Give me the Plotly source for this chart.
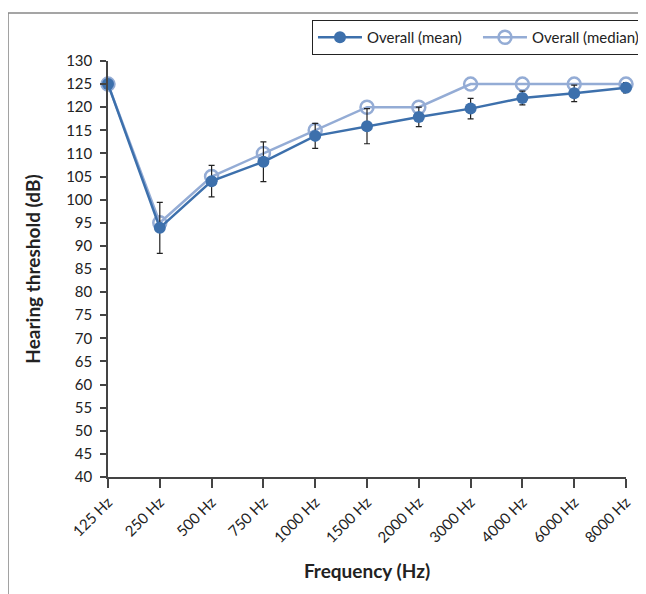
import plotly.graph_objects as go

freqs = ["125 Hz", "250 Hz", "500 Hz", "750 Hz", "1000 Hz", "1500 Hz",
         "2000 Hz", "3000 Hz", "4000 Hz", "6000 Hz", "8000 Hz"]
mean_vals = [125, 93.9, 104, 108.2, 113.8, 115.9, 117.9, 119.7, 122, 123, 124.2]
mean_err = [0.3, 5.5, 3.4, 4.3, 2.7, 3.8, 2.1, 2.2, 1.5, 1.8, 1.1]
median_vals = [125, 95, 105, 110, 115, 120, 120, 125, 125, 125, 125]
y_ticks = list(range(40, 131, 5))

MEAN_C = "#3D70AC"
MED_C = "#94ACD5"
FONT = "Lato, 'Open Sans', sans-serif"

fig = go.Figure()
fig.add_trace(go.Scatter(
    x=freqs, y=median_vals, name="Overall (median)", mode="lines+markers",
    line=dict(color=MED_C, width=2.5),
    marker=dict(symbol="circle-open", size=13, color=MED_C, line=dict(width=2.5, color=MED_C)),
    cliponaxis=False, legendrank=2,
))
fig.add_trace(go.Scatter(
    x=freqs, y=mean_vals, name="Overall (mean)", mode="lines+markers",
    line=dict(color=MEAN_C, width=2.5),
    marker=dict(symbol="circle", size=12, color=MEAN_C),
    error_y=dict(type="data", array=mean_err, visible=True, color="#222222", thickness=1.2, width=3),
    cliponaxis=False, legendrank=1,
))

fig.update_layout(
    width=638, height=586,
    margin=dict(l=100, r=20, t=53, b=117, autoexpand=False),
    paper_bgcolor="white", plot_bgcolor="white",
    font=dict(family=FONT, size=15, color="#222222"),
    showlegend=True,
    legend=dict(orientation="h", x=1.0347, xanchor="right", y=1.0986, yanchor="top",
                bordercolor="#222222", borderwidth=1, bgcolor="white",
                font=dict(size=15), traceorder="normal", itemwidth=44,
                entrywidth=106),
    xaxis=dict(
        type="category", categoryorder="array", categoryarray=freqs,
        range=[0, len(freqs) - 1], automargin=False,
        showline=True, linecolor="#444444", linewidth=1.5,
        ticks="outside", ticklen=9, tickcolor="#444444", tickwidth=1.5,
        tickangle=-45, tickfont=dict(size=15),
        showgrid=False, zeroline=False,
        title=dict(text="<b>Frequency (Hz)</b>", font=dict(size=19), standoff=20),
    ),
    yaxis=dict(
        range=[40, 130], tickvals=y_ticks, automargin=False,
        showline=True, linecolor="#444444", linewidth=1.5,
        ticks="outside", ticklen=6, tickcolor="#444444", tickwidth=1.5,
        tickfont=dict(size=15), ticklabelstandoff=5,
        showgrid=False, zeroline=False,
        title=dict(text="<b>Hearing threshold (dB)</b>", font=dict(size=19), standoff=20),
    ),
    shapes=[dict(type="rect", xref="paper", yref="paper",
                 x0=-0.193, x1=1.2, y0=-0.6, y1=1.1154,
                 line=dict(color="#888888", width=1.5), fillcolor="rgba(0,0,0,0)", layer="below")],
)

fig.write_html("out.html")
